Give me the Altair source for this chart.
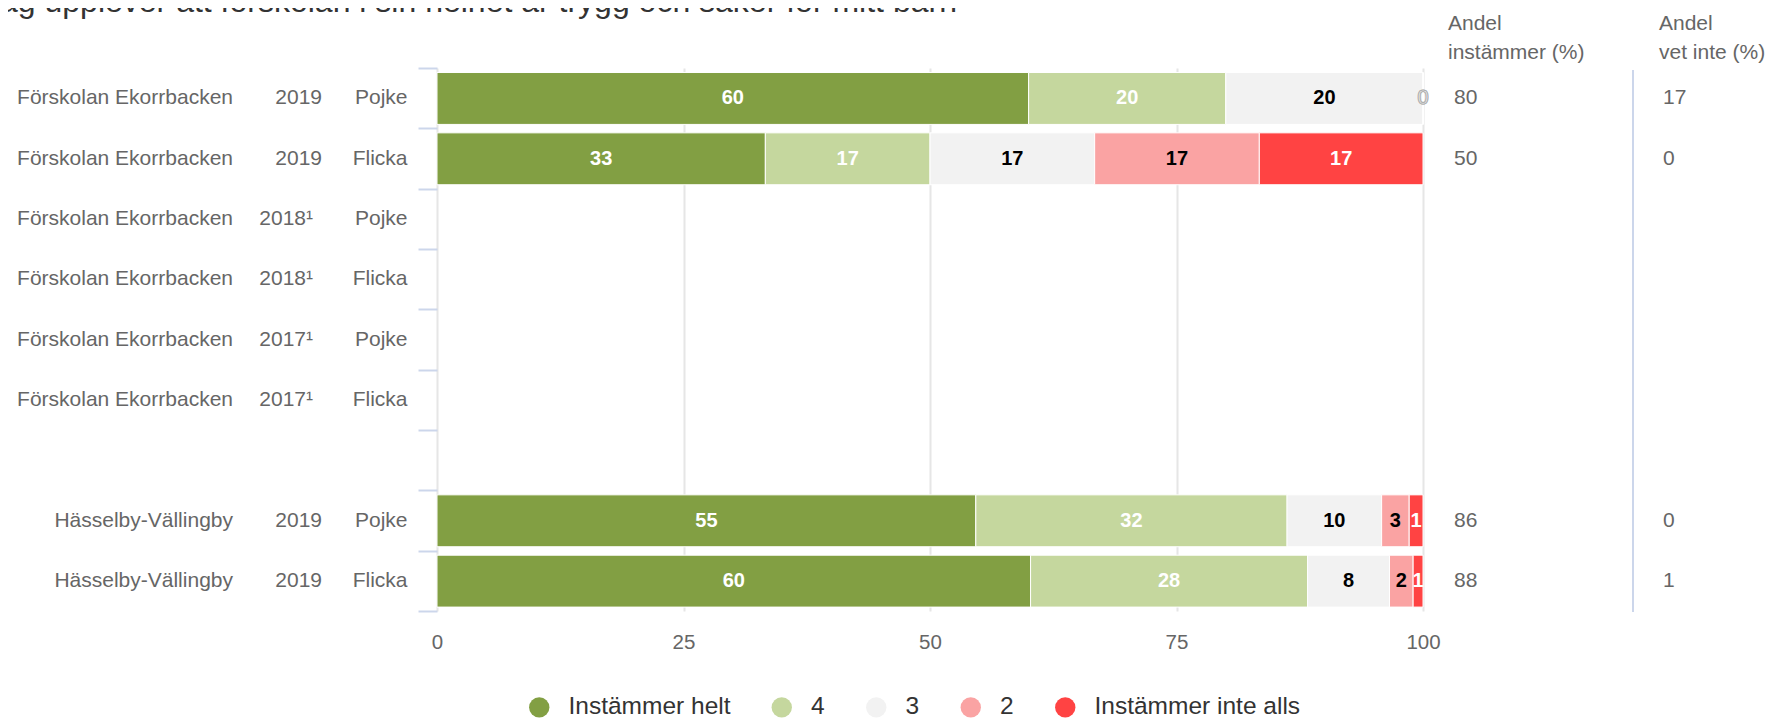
import altair as alt
import pandas as pd

title_text = "Jag upplever att förskolan i sin helhet är trygg och säker för mitt barn"

schools = ["Förskolan Ekorrbacken"] * 6 + ["", "Hässelby-Vällingby", "Hässelby-Vällingby"]
years = ["2019", "2019", "2018¹", "2018¹", "2017¹", "2017¹", "", "2019", "2019"]
genders = ["Pojke", "Flicka", "Pojke", "Flicka", "Pojke", "Flicka", "", "Pojke", "Flicka"]

categories = ["Instämmer helt", "4", "3", "2", "Instämmer inte alls"]
colors = ["#829f43", "#c5d79e", "#f2f2f2", "#faa3a3", "#ff4343"]

v_helt = [60, 33.3, None, None, None, None, None, 54.7, 60.2]
v_4 = [20, 16.7, None, None, None, None, None, 31.6, 28.1]
v_3 = [20, 16.7, None, None, None, None, None, 9.6, 8.3]
v_2 = [0, 16.7, None, None, None, None, None, 2.8, 2.4]
v_inte = [0, 16.6, None, None, None, None, None, 1.4, 1.0]

andel_instammer = [80, 50, None, None, None, None, None, 86, 88]
andel_vet_inte = [17, 0, None, None, None, None, None, 0, 1]

x_ticks = [0, 25, 50, 75, 100]
header_instammer = "Andel\ninstämmer (%)"
header_vet_inte = "Andel\nvet inte (%)"

FONT = "Liberation Sans"
N_ROWS = len(schools)

# ---- tables built from the arrays ----
rows_df = pd.DataFrame({"row": list(range(N_ROWS)), "school": schools,
                        "year": years, "gender": genders})

series = [v_helt, v_4, v_3, v_2, v_inte]
recs = []
for r in range(N_ROWS):
    vals = [s[r] for s in series]
    if vals[0] is None:
        continue
    total = sum(vals)
    acc = 0.0
    for cat, v in zip(categories, vals):
        start = acc / total * 100
        acc += v
        end = acc / total * 100
        recs.append({"row": r, "cat": cat, "value": v, "start": start, "end": end})
bar_df = pd.DataFrame(recs)

vals_df = pd.DataFrame([
    {"row": r, "inst": andel_instammer[r], "vet": andel_vet_inte[r]}
    for r in range(N_ROWS) if andel_instammer[r] is not None
])

xscale = alt.Scale(domain=[0, 100], nice=False, zero=False)
yscale = alt.Scale(domain=[0, N_ROWS], reverse=True, nice=False, zero=False)

xaxis = alt.Axis(values=x_ticks, grid=True, gridColor="#e6e6e6", gridWidth=2,
                 domain=False, ticks=False, tickSize=0, labelFontSize=20.5,
                 labelColor="#666666", labelFont=FONT, labelPadding=21,
                 labelFlush=False, labelOverlap=False, title=None)
yaxis = alt.Axis(values=list(range(N_ROWS + 1)), labels=False, domain=False, grid=False,
                 tickColor="#ccd6eb", tickWidth=2, tickSize=19, title=None)

legend = alt.Legend(orient="none", legendX=90, legendY=627, direction="horizontal",
                    symbolType="circle", symbolSize=415, symbolStrokeWidth=0,
                    symbolOpacity=1, labelFontSize=24.5, labelColor="#333333",
                    labelFont=FONT, columnPadding=38.5, labelOffset=17,
                    labelLimit=400, title=None)

bars = alt.Chart(bar_df).transform_calculate(
    y0="datum.row + 0.075", y1="datum.row + 0.935"
).mark_bar(stroke="white", strokeWidth=1).encode(
    x=alt.X("start:Q", scale=xscale, axis=xaxis),
    x2="end:Q",
    y=alt.Y("y0:Q", scale=yscale, axis=yaxis),
    y2="y1:Q",
    color=alt.Color("cat:N", scale=alt.Scale(domain=categories, range=colors), legend=legend),
)

seg_labels = alt.Chart(bar_df).transform_filter("datum.value > 0").transform_calculate(
    yc="datum.row + 0.5", mid="(datum.start + datum.end) / 2"
).mark_text(font=FONT, fontSize=20, fontWeight="bold", baseline="middle", align="center").encode(
    x=alt.X("mid:Q", scale=xscale, axis=xaxis),
    y=alt.Y("yc:Q", scale=yscale, axis=yaxis),
    text=alt.Text("value:Q", format=".0f"),
    fill=alt.condition((alt.datum.cat == "3") | (alt.datum.cat == "2"),
                       alt.value("#000000"), alt.value("#ffffff")),
)

zero_labels = alt.Chart(bar_df).transform_filter("datum.value == 0").transform_calculate(
    yc="datum.row + 0.5"
).mark_text(font=FONT, fontSize=20, baseline="middle", align="center",
            fill="#ffffff", stroke="#b0b0b0", strokeWidth=1).encode(
    x=alt.X("end:Q", scale=xscale, axis=xaxis),
    y=alt.Y("yc:Q", scale=yscale, axis=yaxis),
    text=alt.Text("value:Q", format=".0f"),
)

def row_text(field, xpos, align, df=rows_df, filt=None, fmt=None):
    ch = alt.Chart(df)
    if filt:
        ch = ch.transform_filter(filt)
    text = alt.Text(field, format=fmt) if fmt else alt.Text(field)
    return ch.transform_calculate(yc="datum.row + 0.5").mark_text(
        font=FONT, fontSize=21, color="#666666", baseline="middle", align=align
    ).encode(
        x=alt.value(xpos),
        y=alt.Y("yc:Q", scale=yscale, axis=yaxis),
        text=text,
    )

school_lbl = row_text("school:N", -204, "right")
year_lbl_a = row_text("year:N", -115, "right", filt="indexof(datum.year, '¹') < 0")
year_lbl_b = row_text("year:N", -124, "right", filt="indexof(datum.year, '¹') >= 0")
gender_lbl = row_text("gender:N", -29.5, "right")
inst_lbl = row_text("inst:Q", 1017, "left", df=vals_df, fmt=".0f")
vet_lbl = row_text("vet:Q", 1226, "left", df=vals_df, fmt=".0f")

def header(txt, xpos):
    return alt.Chart(pd.DataFrame({"t": [txt]})).mark_text(
        font=FONT, fontSize=21, color="#666666", baseline="alphabetic", align="left",
        lineBreak="\n", lineHeight=29
    ).encode(x=alt.value(xpos), y=alt.value(-38), text="t:N")

head_a = header(header_instammer, 1011)
head_b = header(header_vet_inte, 1222)

sep = alt.Chart(pd.DataFrame({"a": [0]})).mark_rule(color="#ccd6eb", strokeWidth=2).encode(
    x=alt.value(1196), y=alt.value(2), y2=alt.value(544)
)

title = alt.Chart(pd.DataFrame({"t": [title_text]})).mark_text(
    font=FONT, fontSize=32, color="#333333", baseline="alphabetic", align="left"
).encode(x=alt.value(-453), y=alt.value(-56), text="t:N")

chart = alt.layer(
    bars, seg_labels, zero_labels, school_lbl, year_lbl_a, year_lbl_b, gender_lbl,
    inst_lbl, vet_lbl, head_a, head_b, sep, title
).properties(
    width=986, height=543,
    padding={"left": 429, "top": 60, "right": 354, "bottom": 109},
    autosize=alt.AutoSizeParams(type="none"),
).configure_view(stroke=None)

chart.save("out.html", embed_options={"renderer": "svg", "actions": False})
